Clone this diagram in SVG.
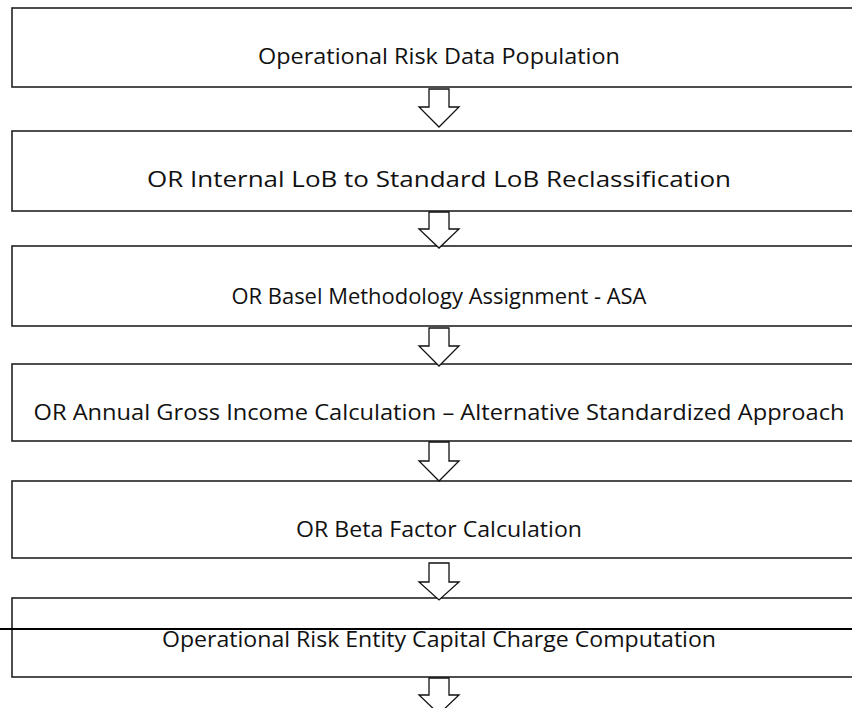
<svg xmlns="http://www.w3.org/2000/svg" width="852" height="708" viewBox="0 0 852 708">
<style>
.box{fill:#fff;stroke:#222;stroke-width:1.6}
.arr{fill:#fff;stroke:#111;stroke-width:1.3;stroke-linejoin:miter}
.t{font-family:"Open Sans","Liberation Sans",sans-serif;font-size:21px;fill:#111;text-anchor:middle}
</style>
<rect width="852" height="708" fill="#fff"/>
<g id="n1"><rect class="box" x="12" y="8" width="856" height="79"/><text class="t" x="439" y="64" textLength="362" lengthAdjust="spacingAndGlyphs">Operational Risk Data Population</text></g>
<g id="n2"><rect class="box" x="12" y="131" width="856" height="80"/><text class="t" x="439" y="187" textLength="584" lengthAdjust="spacingAndGlyphs">OR Internal LoB to Standard LoB Reclassification</text></g>
<g id="n3"><rect class="box" x="12" y="246" width="856" height="80"/><text class="t" x="439" y="304" textLength="415" lengthAdjust="spacingAndGlyphs">OR Basel Methodology Assignment - ASA</text></g>
<g id="n4"><rect class="box" x="12" y="364" width="856" height="77"/><text class="t" x="439" y="420" textLength="811" lengthAdjust="spacingAndGlyphs">OR Annual Gross Income Calculation – Alternative Standardized Approach</text></g>
<g id="n5"><rect class="box" x="12" y="481" width="856" height="77"/><text class="t" x="439" y="537" textLength="286" lengthAdjust="spacingAndGlyphs">OR Beta Factor Calculation</text></g>
<g id="n6"><rect class="box" x="12" y="598" width="856" height="79"/><text class="t" x="439" y="647" textLength="554" lengthAdjust="spacingAndGlyphs">Operational Risk Entity Capital Charge Computation</text></g>
<g id="connectors">
<path class="arr" d="M429 89 H449 V107 H459 L439 127 L419 107 H429 Z"/>
<path class="arr" d="M429 212 H449 V229 H459 L439 248 L419 229 H429 Z"/>
<path class="arr" d="M429 328 H449 V346 H459 L439 366 L419 346 H429 Z"/>
<path class="arr" d="M429 442 H449 V461 H459 L439 481 L419 461 H429 Z"/>
<path class="arr" d="M429 563 H449 V582 H459 L439 600 L419 582 H429 Z"/>
<path class="arr" d="M429 678 H449 V695 H459 L439 714 L419 695 H429 Z"/>
<line x1="0" y1="629" x2="852" y2="629" stroke="#000" stroke-width="2"/>
</g>
</svg>
